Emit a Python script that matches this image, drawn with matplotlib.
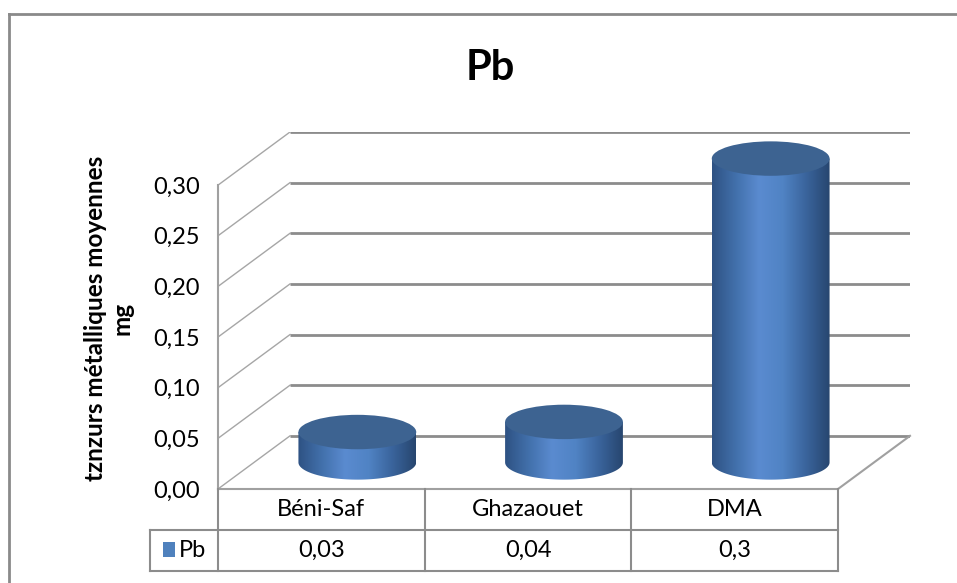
import numpy as np
import matplotlib.pyplot as plt
from matplotlib.patches import Polygon, Ellipse, Rectangle
from matplotlib.colors import LinearSegmentedColormap
from matplotlib.lines import Line2D

plt.rcParams['font.family'] = ['Lato', 'DejaVu Sans']

categories = ['Béni-Saf', 'Ghazaouet', 'DMA']
values = [0.03, 0.04, 0.3]
value_labels = ['0,03', '0,04', '0,3']
series_name = 'Pb'
yticks = [0.00, 0.05, 0.10, 0.15, 0.20, 0.25, 0.30]
ytick_labels = ['0,00', '0,05', '0,10', '0,15', '0,20', '0,25', '0,30']

W, H = 957, 583
fig = plt.figure(figsize=(W / 100, H / 100), dpi=100)


def box(x0, y0, x1, y1):
    # pixel box (top-left origin) -> figure fraction rect
    return [x0 / W, 1 - y1 / H, (x1 - x0) / W, (y1 - y0) / H]


grid_col = '#8c8c8c'
fs = 17
n = len(categories)
ymax = yticks[-1]
DX = 72 / 620 * n          # depth offset in category units
DY = 53 / 303 * ymax       # depth offset in value units

ax = fig.add_axes(box(218, 132, 910, 489))
ax.set_xlim(0, n + DX)
ax.set_ylim(0, ymax + DY)

# back wall gridlines and side-wall diagonals
for v in yticks:
    ax.plot([0, DX], [v, v + DY], color='#a6a6a6', lw=1, zorder=1)
    ax.plot([DX, n + DX], [v + DY, v + DY], color=grid_col, lw=2, zorder=1,
            solid_capstyle='butt')
ax.plot([0, 0], [0, ymax], color='#a0a0a0', lw=1.5, zorder=1, clip_on=False)
# floor
ax.plot([0, n, n + DX], [0, 0, DY], color='#a0a0a0', lw=1.5, zorder=1, clip_on=False)

# cylinders
cmap = LinearSegmentedColormap.from_list(
    'cyl', ['#2e5283', '#4270ab', '#5a8bd0', '#5083c4', '#3a649c', '#27466f'])
grad = np.linspace(0, 1, 256).reshape(1, -1)
hw = 0.285
eh = 0.017
t = np.linspace(np.pi, 2 * np.pi, 80)
for i, v in enumerate(values):
    cx = i + 0.5 + DX / 2
    base = DY / 2
    top = base + v
    pts = [(cx - hw, top)] + list(zip(cx + hw * np.cos(t), base + eh * np.sin(t))) + [(cx + hw, top)]
    body = Polygon(pts, closed=True, facecolor='none', edgecolor='none')
    ax.add_patch(body)
    im = ax.imshow(grad, cmap=cmap, extent=(cx - hw, cx + hw, base - eh, top),
                   aspect='auto', zorder=3, interpolation='bilinear')
    im.set_clip_path(body)
    ax.add_patch(Ellipse((cx, top), 2 * hw, 2 * eh, facecolor='#3d6391',
                         edgecolor='none', zorder=4))

ax.set_xlim(0, n + DX)
ax.set_ylim(0, ymax + DY)
ax.set_xticks([])
ax.set_yticks(yticks, ytick_labels)
ax.tick_params(axis='y', length=0, pad=13, labelsize=fs)
for s in ax.spines.values():
    s.set_visible(False)
ax.patch.set_alpha(0)

ax.set_ylabel('tznzurs métalliques moyennes\nmg', fontsize=17.5, fontweight='bold',
              linespacing=1.2)
ax.yaxis.label.set_va('center')
ax.yaxis.set_label_coords(-0.1575, 0.479)

fig.text(490 / W, 1 - 68 / H, 'Pb', ha='center', va='center', fontsize=30,
         fontweight='bold')

# data table under the plot
tax = fig.add_axes(box(150, 489, 838, 571))
left = -(218 - 150) / (620 / n)
tax.set_xlim(left, n)
tax.set_ylim(2, 0)
tax.axis('off')
lk = dict(color=grid_col, lw=1.5, clip_on=False)
for x in range(n + 1):
    tax.plot([x, x], [0, 2], **lk)
tax.plot([left, left], [1, 2], **lk)
tax.plot([left, n], [1, 1], **lk)
tax.plot([left, n], [2, 2], **lk)
for i, (c, lab) in enumerate(zip(categories, value_labels)):
    tax.text(i + 0.5, 0.5, c, ha='center', va='center', fontsize=fs)
    tax.text(i + 0.5, 1.5, lab, ha='center', va='center', fontsize=fs)
px = 1 / (620 / n)
tax.add_patch(Rectangle((left + 13 * px, 1.3), 12 * px, 0.37, facecolor='#4f81bd',
                        edgecolor='none'))
tax.text(left + 29 * px, 1.5, series_name, ha='left', va='center', fontsize=fs)

# chart border
fig.add_artist(Line2D([9 / W, 1], [1 - 14 / H, 1 - 14 / H], color='#8a8a8a', lw=2))
fig.add_artist(Line2D([9 / W, 9 / W], [0, 1 - 14 / H], color='#8a8a8a', lw=2))

fig.savefig('out.png', dpi=100)
